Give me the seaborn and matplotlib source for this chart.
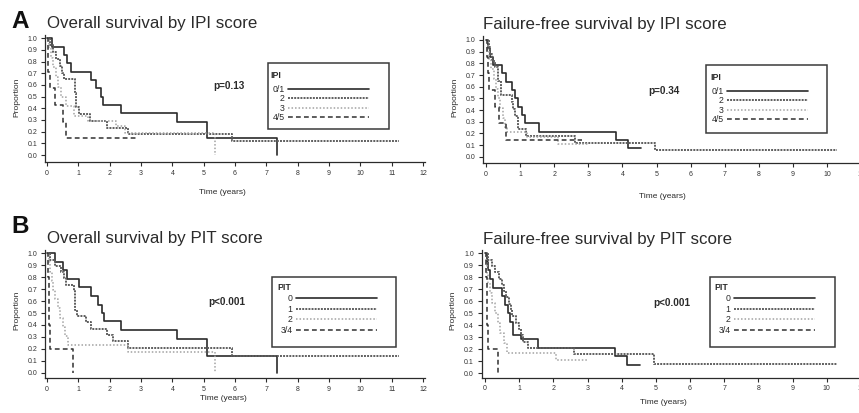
import matplotlib
matplotlib.use("Agg")
import matplotlib.pyplot as plt
from matplotlib.patches import Rectangle
import seaborn as sns

# ---- data (time in years, proportion surviving) ----
# Overall survival by IPI
os_ipi_01_t = [0, 0.15, 0.53, 0.64, 0.77, 1.41, 1.55, 1.72, 1.8, 2.35, 4.15, 5.1, 7.35]
os_ipi_01_s = [1.0, 0.929, 0.857, 0.786, 0.714, 0.643, 0.571, 0.5, 0.429, 0.357, 0.286, 0.143, 0.0]
os_ipi_2_t = [0, 0.1, 0.2, 0.3, 0.4, 0.48, 0.55, 0.88, 0.92, 1.03, 1.37, 1.9, 2.6, 5.9, 11.25]
os_ipi_2_s = [1.0, 0.941, 0.882, 0.824, 0.765, 0.706, 0.647, 0.529, 0.412, 0.353, 0.294, 0.235, 0.176, 0.118, 0.118]
os_ipi_3_t = [0, 0.05, 0.12, 0.2, 0.28, 0.36, 0.45, 0.6, 0.85, 1.3, 2.2, 2.5, 5.35]
os_ipi_3_s = [1.0, 0.917, 0.833, 0.75, 0.667, 0.583, 0.5, 0.417, 0.333, 0.292, 0.25, 0.188, 0.0]
os_ipi_45_t = [0, 0.02, 0.04, 0.08, 0.24, 0.51, 0.62, 2.83]
os_ipi_45_s = [1.0, 0.857, 0.714, 0.571, 0.429, 0.286, 0.143, 0.143]

# Failure-free survival by IPI
ffs_ipi_01_t = [0, 0.05, 0.12, 0.2, 0.47, 0.6, 0.75, 0.85, 0.95, 1.05, 1.15, 1.55, 3.8, 4.15, 4.55]
ffs_ipi_01_s = [1.0, 0.929, 0.857, 0.786, 0.714, 0.643, 0.571, 0.5, 0.429, 0.357, 0.286, 0.214, 0.143, 0.071, 0.071]
ffs_ipi_2_t = [0, 0.08, 0.12, 0.18, 0.25, 0.35, 0.45, 0.75, 0.8, 0.85, 0.95, 1.18, 2.6, 4.95, 10.3]
ffs_ipi_2_s = [1.0, 0.941, 0.882, 0.824, 0.765, 0.647, 0.529, 0.471, 0.412, 0.353, 0.235, 0.176, 0.118, 0.059, 0.059]
ffs_ipi_3_t = [0, 0.05, 0.1, 0.15, 0.22, 0.3, 0.36, 0.42, 0.5, 0.56, 0.62, 1.2, 2.1, 3.0]
ffs_ipi_3_s = [1.0, 0.917, 0.833, 0.75, 0.667, 0.583, 0.5, 0.417, 0.333, 0.25, 0.208, 0.167, 0.111, 0.111]
ffs_ipi_45_t = [0, 0.03, 0.06, 0.1, 0.25, 0.37, 0.6, 2.82]
ffs_ipi_45_s = [1.0, 0.857, 0.714, 0.571, 0.429, 0.286, 0.143, 0.143]

# Overall survival by PIT
os_pit_0_t = [0, 0.27, 0.52, 0.65, 1.02, 1.42, 1.62, 1.75, 1.82, 2.35, 4.15, 5.1, 7.35]
os_pit_0_s = [1.0, 0.929, 0.857, 0.786, 0.714, 0.643, 0.571, 0.5, 0.429, 0.357, 0.286, 0.143, 0.0]
os_pit_1_t = [0, 0.1, 0.25, 0.45, 0.55, 0.62, 0.86, 0.88, 0.9, 0.95, 1.25, 1.4, 1.9, 2.1, 2.6, 5.9, 11.25]
os_pit_1_s = [1.0, 0.947, 0.895, 0.842, 0.789, 0.737, 0.684, 0.579, 0.526, 0.474, 0.421, 0.368, 0.316, 0.263, 0.211, 0.14, 0.14]
os_pit_2_t = [0, 0.05, 0.1, 0.15, 0.2, 0.27, 0.35, 0.42, 0.5, 0.58, 0.68, 2.6, 5.35]
os_pit_2_s = [1.0, 0.923, 0.846, 0.769, 0.692, 0.615, 0.538, 0.462, 0.385, 0.308, 0.231, 0.173, 0.0]
os_pit_34_t = [0, 0.03, 0.05, 0.07, 0.1, 0.82]
os_pit_34_s = [1.0, 0.8, 0.6, 0.4, 0.2, 0.0]

# Failure-free survival by PIT
ffs_pit_0_t = [0, 0.05, 0.1, 0.15, 0.22, 0.5, 0.58, 0.66, 0.74, 0.82, 1.05, 1.55, 3.8, 4.15, 4.55]
ffs_pit_0_s = [1.0, 0.929, 0.857, 0.786, 0.714, 0.643, 0.571, 0.5, 0.429, 0.321, 0.286, 0.214, 0.143, 0.071, 0.071]
ffs_pit_1_t = [0, 0.1, 0.2, 0.3, 0.42, 0.5, 0.55, 0.6, 0.7, 0.75, 0.8, 0.9, 1.0, 1.05, 1.1, 1.25, 2.6, 4.95, 10.3]
ffs_pit_1_s = [1.0, 0.947, 0.895, 0.842, 0.789, 0.737, 0.684, 0.632, 0.579, 0.526, 0.474, 0.421, 0.368, 0.316, 0.263, 0.211, 0.158, 0.079, 0.079]
ffs_pit_2_t = [0, 0.04, 0.07, 0.1, 0.15, 0.2, 0.3, 0.38, 0.45, 0.55, 0.65, 2.08, 3.0]
ffs_pit_2_s = [1.0, 0.917, 0.833, 0.75, 0.667, 0.583, 0.5, 0.417, 0.333, 0.25, 0.167, 0.111, 0.111]
ffs_pit_34_t = [0, 0.03, 0.05, 0.07, 0.1, 0.39]
ffs_pit_34_s = [1.0, 0.8, 0.6, 0.4, 0.2, 0.0]

ipi_labels = ["0/1", "2", "3", "4/5"]
pit_labels = ["0", "1", "2", "3/4"]
y_ticks = [0.0, 0.1, 0.2, 0.3, 0.4, 0.5, 0.6, 0.7, 0.8, 0.9, 1.0]

# colour, linestyle, width for the four risk groups
STYLES = [
    ("#2b2b2b", "-", 1.2),
    ("#5e5e5e", (0, (1, 0.6)), 1.4),
    ("#a2a2a2", (0, (1, 1.3)), 1.1),
    ("#383838", (0, (3, 2)), 1.15),
]

sns.set_style("ticks")
plt.rcParams["font.family"] = ["Liberation Sans", "DejaVu Sans"]

W, H = 859, 413
fig = plt.figure(figsize=(W / 100, H / 100), dpi=100)
INK = "#2b2b2b"


def ftext(x, y, s, **kw):
    # place text in figure pixel coordinates (origin top-left)
    kw.setdefault("color", INK)
    return fig.text(x / W, 1 - y / H, s, **kw)


def make_axes(x0, xper, y0, yper, xlim, ylim):
    left = x0 + xlim[0] * xper
    right = x0 + xlim[1] * xper
    top = y0 - ylim[1] * yper
    bottom = y0 - ylim[0] * yper
    ax = fig.add_axes([left / W, 1 - bottom / H, (right - left) / W, (bottom - top) / H])
    ax.set_xlim(*xlim)
    ax.set_ylim(*ylim)
    return ax


def draw_panel(ax, curves, labels, xticks, title, title_xy, ylab_xy, xlab_xy,
               ptext, p_xy, leg_title, leg_title_xy, leg_anchor, leg_spacing, box):
    for (t, s), lab, (col, ls, lw) in zip(curves, labels, STYLES):
        sns.lineplot(x=t, y=s, ax=ax, color=col, linestyle=ls, linewidth=lw,
                     drawstyle="steps-post", estimator=None, label=lab, legend=False)
    sns.despine(ax=ax)
    for side in ["left", "bottom"]:
        ax.spines[side].set_color(INK)
        ax.spines[side].set_linewidth(0.9)
    ax.set_xticks(xticks)
    ax.set_xticklabels([str(v) for v in xticks])
    ax.set_yticks(y_ticks)
    ax.set_yticklabels([f"{v:.1f}" for v in y_ticks])
    ax.tick_params(labelsize=5, length=3, width=0.8, pad=2.5, color=INK, labelcolor="#333333")

    ax.set_xlabel("Time (years)", fontsize=6, color=INK, va="center")
    ax.xaxis.set_label_coords(xlab_xy[0] / W, 1 - xlab_xy[1] / H, transform=fig.transFigure)
    ax.set_ylabel("Proportion", fontsize=6, color=INK, va="center")
    ax.yaxis.set_label_coords(ylab_xy[0] / W, 1 - ylab_xy[1] / H, transform=fig.transFigure)

    ftext(title_xy[0], title_xy[1], title, fontsize=12.2, va="baseline", ha="left")
    ftext(p_xy[0], p_xy[1], ptext, fontsize=7.2, fontweight="bold", va="center", ha="left")

    # legend: entries from the plotted lines, title and frame drawn separately
    handles = ax.get_lines()[:4]
    leg = ax.legend(handles, labels, loc="upper right",
                    bbox_to_anchor=(leg_anchor[0] / W, 1 - leg_anchor[1] / H),
                    bbox_transform=fig.transFigure, frameon=False, markerfirst=False,
                    fontsize=6.3, handlelength=9.3, handletextpad=0.35,
                    labelspacing=leg_spacing, borderpad=0, borderaxespad=0)
    for txt in leg.get_texts():
        txt.set_color(INK)
    ftext(leg_title_xy[0], leg_title_xy[1], leg_title, fontsize=6.3, fontweight="bold",
          va="center", ha="left")
    x1, y1, x2, y2 = box
    fig.add_artist(Rectangle((x1 / W, 1 - y2 / H), (x2 - x1) / W, (y2 - y1) / H,
                             transform=fig.transFigure, fill=False, ec="#3a3a3a", lw=1.1))


ax_tl = make_axes(47, 31.33, 155, 116.7, (-0.06, 12.05), (-0.06, 1.03))
draw_panel(ax_tl,
           [(os_ipi_01_t, os_ipi_01_s), (os_ipi_2_t, os_ipi_2_s),
            (os_ipi_3_t, os_ipi_3_s), (os_ipi_45_t, os_ipi_45_s)],
           ipi_labels, list(range(0, 13)), "Overall survival by IPI score", (47, 28),
           (17, 97), (222, 193), "p=0.13", (213, 86), "IPI", (270, 76), (369, 85), 0.05,
           (268, 63, 389, 129))

ax_tr = make_axes(486, 34.1, 156.7, 116.7, (-0.08, 11.1), (-0.057, 1.03))
draw_panel(ax_tr,
           [(ffs_ipi_01_t, ffs_ipi_01_s), (ffs_ipi_2_t, ffs_ipi_2_s),
            (ffs_ipi_3_t, ffs_ipi_3_s), (ffs_ipi_45_t, ffs_ipi_45_s)],
           ipi_labels, list(range(0, 12)), "Failure-free survival by IPI score", (483, 29),
           (455, 97), (662, 197), "p=0.34", (648, 91), "IPI", (710, 77), (808, 87), 0.05,
           (706, 65, 827, 133))

ax_bl = make_axes(47, 31.33, 372.7, 119.4, (-0.06, 12.05), (-0.047, 1.03))
draw_panel(ax_bl,
           [(os_pit_0_t, os_pit_0_s), (os_pit_1_t, os_pit_1_s),
            (os_pit_2_t, os_pit_2_s), (os_pit_34_t, os_pit_34_s)],
           pit_labels, list(range(0, 13)), "Overall survival by PIT score", (47, 243),
           (17, 310), (223, 399), "p<0.001", (208, 302), "PIT", (277, 287), (377, 294), 0.2,
           (272, 277, 396, 347))

ax_br = make_axes(485, 34.17, 373.3, 120, (-0.1, 11.1), (-0.037, 1.03))
draw_panel(ax_br,
           [(ffs_pit_0_t, ffs_pit_0_s), (ffs_pit_1_t, ffs_pit_1_s),
            (ffs_pit_2_t, ffs_pit_2_s), (ffs_pit_34_t, ffs_pit_34_s)],
           pit_labels, list(range(0, 12)), "Failure-free survival by PIT score", (483, 244),
           (453, 310), (663, 402), "p<0.001", (653, 303), "PIT", (714, 287), (815, 294), 0.2,
           (710, 277, 835, 347))

# panel letters
ftext(11, 28, "A", fontsize=17.5, fontweight="heavy", va="baseline", ha="left", color="#111111")
ftext(11, 233, "B", fontsize=17.5, fontweight="heavy", va="baseline", ha="left", color="#111111")

fig.savefig("out.png", dpi=100, facecolor="white")
